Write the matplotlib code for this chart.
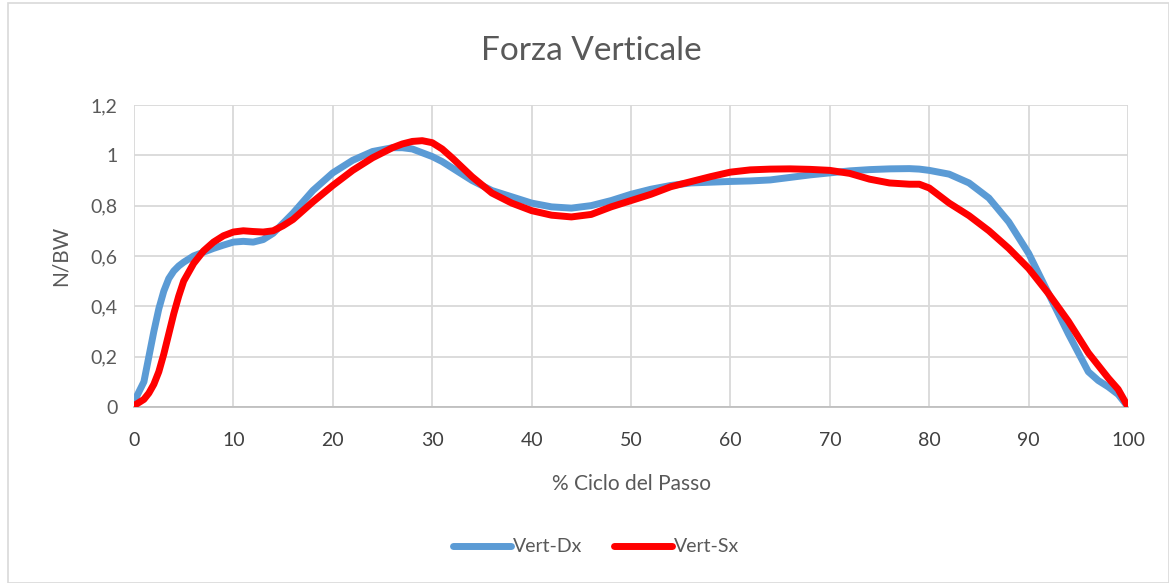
import matplotlib.pyplot as plt
from matplotlib.patches import Rectangle

# % of gait cycle
ciclo = [0, 1, 1.5, 2, 2.5, 3, 3.5, 4, 4.5, 5, 6, 7, 8, 9, 10, 11, 12, 13, 14,
         15, 16, 18, 20, 22, 24, 26, 27, 28, 29, 30, 31, 32, 34, 36, 38, 40, 42,
         44, 46, 48, 50, 52, 54, 56, 58, 60, 62, 64, 66, 68, 70, 72, 74, 76, 78,
         79, 80, 82, 84, 86, 88, 90, 92, 94, 96, 97, 98, 99, 100]

vert_dx = [0.02, 0.10, 0.20, 0.30, 0.39, 0.46, 0.51, 0.54, 0.56, 0.575, 0.60,
           0.615, 0.63, 0.643, 0.655, 0.658, 0.655, 0.665, 0.69, 0.73, 0.77,
           0.86, 0.93, 0.98, 1.015, 1.03, 1.03, 1.025, 1.01, 0.995, 0.975, 0.95,
           0.90, 0.86, 0.835, 0.81, 0.795, 0.79, 0.80, 0.82, 0.845, 0.865, 0.88,
           0.89, 0.893, 0.896, 0.898, 0.902, 0.912, 0.922, 0.93, 0.938, 0.943,
           0.946, 0.947, 0.945, 0.94, 0.925, 0.89, 0.83, 0.735, 0.61, 0.45, 0.29,
           0.14, 0.105, 0.08, 0.05, 0.0]

vert_sx = [0.005, 0.03, 0.055, 0.09, 0.14, 0.21, 0.29, 0.37, 0.44, 0.50, 0.57,
           0.62, 0.655, 0.68, 0.695, 0.70, 0.697, 0.695, 0.70, 0.72, 0.745, 0.815,
           0.88, 0.94, 0.99, 1.03, 1.045, 1.055, 1.058, 1.05, 1.025, 0.99, 0.915,
           0.85, 0.81, 0.78, 0.762, 0.755, 0.765, 0.795, 0.82, 0.845, 0.875,
           0.895, 0.915, 0.933, 0.942, 0.945, 0.946, 0.944, 0.94, 0.928, 0.905,
           0.89, 0.885, 0.885, 0.87, 0.81, 0.76, 0.70, 0.63, 0.55, 0.45, 0.34,
           0.215, 0.165, 0.115, 0.07, 0.0]

x_ticks = list(range(0, 101, 10))
y_ticks = [0, 0.2, 0.4, 0.6, 0.8, 1.0, 1.2]
y_labels = ["0", "0,2", "0,4", "0,6", "0,8", "1", "1,2"]

plt.rcParams["font.family"] = ["Lato", "DejaVu Sans"]
text_color = "#595959"

fig = plt.figure(figsize=(11.69, 5.83), dpi=100)
ax = fig.add_axes([0.1146, 0.302, 0.8504, 0.518])

line_style = dict(lw=5, solid_capstyle="round", solid_joinstyle="round")
ax.plot(ciclo, vert_dx, color="#5B9BD5", label="Vert-Dx", zorder=3, **line_style)
ax.plot(ciclo, vert_sx, color="#FF0000", label="Vert-Sx", zorder=4, **line_style)

ax.set_xlim(0, 100)
ax.set_ylim(0, 1.2)
ax.set_xticks(x_ticks)
ax.set_yticks(y_ticks)
ax.set_yticklabels(y_labels)
ax.tick_params(length=0, labelsize=14, labelcolor=text_color)
ax.tick_params(axis="x", pad=18, labelcolor="#404040")
ax.tick_params(axis="y", pad=12)
ax.grid(True, color="#D9D9D9", lw=1.3)
ax.set_axisbelow(True)
for side in ["top", "right", "left"]:
    ax.spines[side].set_visible(False)
ax.spines["bottom"].set_color("#BFBFBF")
ax.spines["bottom"].set_linewidth(1.3)

ax.set_xlabel("% Ciclo del Passo", fontsize=15, color=text_color, labelpad=18)
ax.set_ylabel("N/BW", fontsize=15, color=text_color, labelpad=14)

fig.text(0.506, 0.912, "Forza Verticale", ha="center", va="center",
         fontsize=24, color=text_color)

fig.legend(loc="center", bbox_to_anchor=(0.51, 0.062), ncol=2, frameon=False,
           fontsize=14, handlelength=3.0, columnspacing=1.6, handletextpad=0.1,
           labelcolor=text_color)

fig.patches.append(Rectangle((0.007, 0.0), 0.993, 0.995, transform=fig.transFigure,
                             fill=False, edgecolor="#D9D9D9", lw=1.2))

fig.savefig("out.png", dpi=100)
